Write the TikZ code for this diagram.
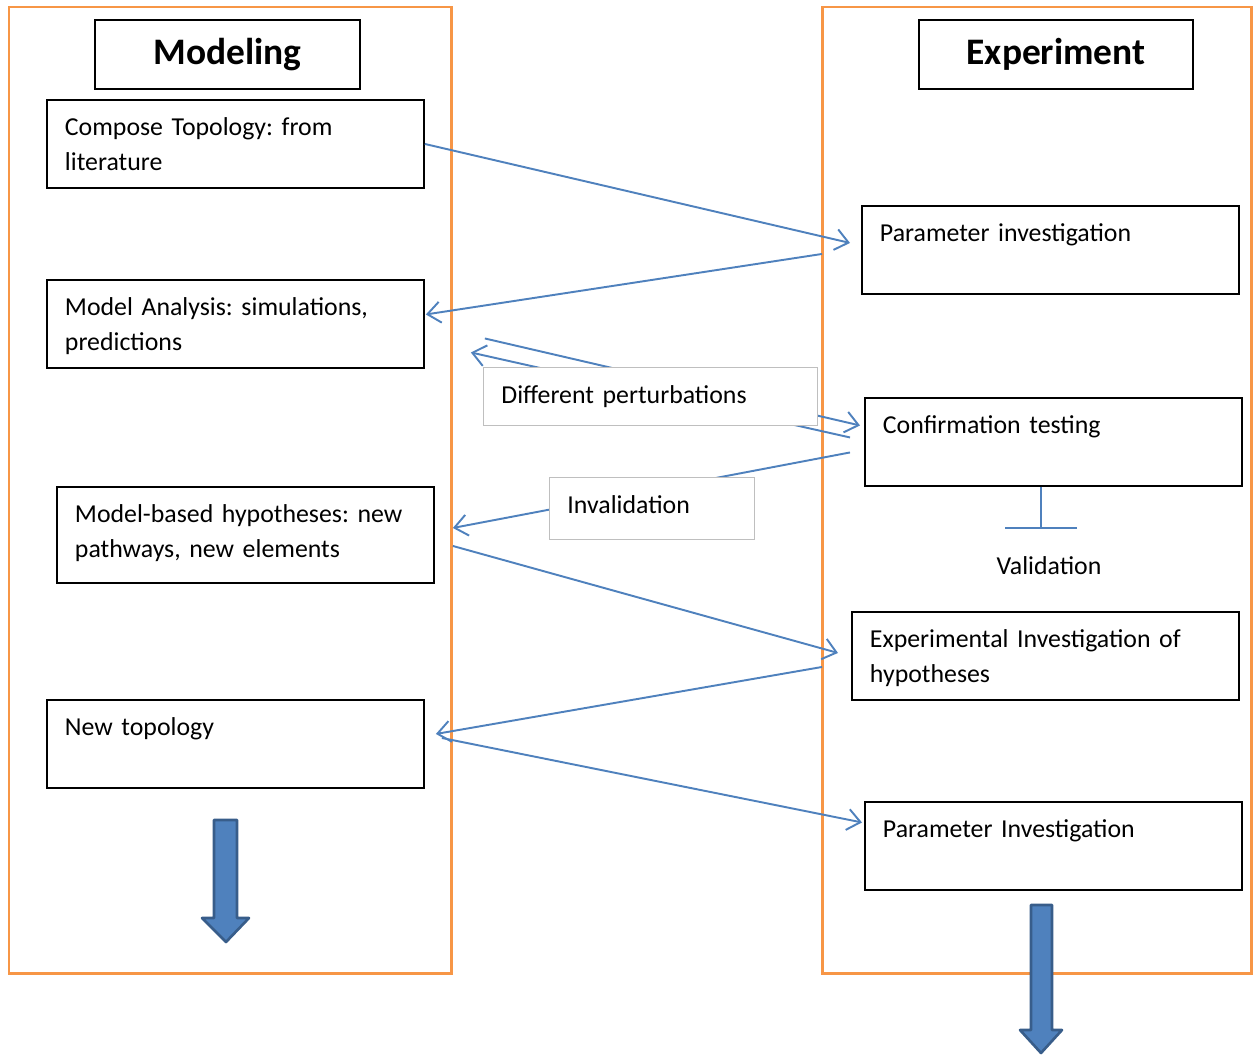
\documentclass[tikz,border=0pt]{standalone}
\usepackage{fontspec}
\setmainfont{Carlito}
\usetikzlibrary{arrows.meta}
\frenchspacing

\definecolor{panelorange}{HTML}{F79646}
\definecolor{linkblue}{HTML}{4F81BD}
\definecolor{darkblue}{HTML}{385D8A}

\begin{document}
\begin{tikzpicture}[x=0.02cm,y=-0.02cm,
  >={Straight Barb[length=0.26cm,width=0.42cm]},
  link/.style={->,color=linkblue,line width=1.1pt},
  panel/.style={draw=panelorange,line width=1.7pt},
  title/.style={draw,line width=1.1pt,fill=white,minimum height=1.38cm,
    font=\fontsize{21.3}{25}\selectfont\bfseries},
  box/.style={draw,line width=1.1pt,fill=white,anchor=north west,align=left,
    inner xsep=0.36cm,inner ysep=0pt,text width=6.82cm,
    text height=0.72cm,text depth=1.04cm,font=\fontsize{14.7}{19.9}\selectfont},
  tag/.style={box,draw=black!25,line width=0.5pt,text depth=0.44cm},
  blockarrow/.style={fill=linkblue,draw=darkblue,line width=1.5pt,line join=round}]
  \useasboundingbox (0,0) rectangle (1253,1055);

  \begin{scope}
	  % Modeling column
	  \draw[panel] (9,7) rectangle (451,973);
	  \node[title,minimum width=5.3cm] (model title) at (227.5,54.5) {Modeling};
	  \node[box] (compose) at (46,99)  {Compose Topology: from\\literature};
	  \node[box] (ana)     at (46,279) {Model Analysis: simulations,\\predictions};
	  \node[box,text depth=1.2cm] (hyp) at (56,486) {Model-based hypotheses: new\\pathways, new elements};
	  \node[box] (newt)    at (46,699) {New topology};
	  \filldraw[blockarrow] (214,820) -- (237,820) -- (237,918) -- (249,918)
	    -- (226,942) -- (202,918) -- (214,918) -- cycle;
  \end{scope}

  \begin{scope}
	  % Experiment column
	  \draw[panel] (822,7) rectangle (1251,973);
	  \node[title,minimum width=5.48cm] (exp title) at (1056,54.5) {Experiment};
	  \node[box] (param) at (861,205) {Parameter investigation};
	  \node[box] (conf)  at (864,397) {Confirmation testing};
	  \node[box,text width=7.02cm] (exp) at (851,611) {Experimental Investigation of\\hypotheses};
	  \node[box] (par2)  at (864,801) {Parameter Investigation};
	  \filldraw[blockarrow] (1031,905) -- (1052,905) -- (1052,1030) -- (1062,1030)
	    -- (1041,1053) -- (1020,1030) -- (1031,1030) -- cycle;
  \end{scope}

  % Validation bar
  \coordinate (bar) at (1041,529);
  \node[font=\fontsize{14.7}{19.9}\selectfont] (valid) at (1049,566) {Validation};
  \path[color=linkblue,line width=1.1pt,-{Bar[width=1.44cm]}]
  (bar |- conf.south) edge (bar);

  % Connecting edges
  \path[link]
  (compose.east) edge ([shift={(-11,-7)}]param.west)
  ([shift={(-39,4)}]param.west) edge ([shift={(1,-9.5)}]ana.east)
  ([shift={(60,14.5)}]ana.east) edge ([shift={(-4,-16.5)}]conf.west)
  ([shift={(-14,-4.5)}]conf.west) edge ([shift={(46,28.5)}]ana.east)
  ([shift={(-14,10.5)}]conf.west) edge ([shift={(18,-7)}]hyp.east)
  ([shift={(18,11)}]hyp.east) edge ([shift={(-13,-3)}]exp.west)
  ([shift={(-29,11)}]exp.west) edge ([shift={(11,-10)}]newt.east)
  ([shift={(17,-6)}]newt.east) edge ([shift={(-2,-23.5)}]par2.west);

  % Edge labels
  \node[tag,text width=5.96cm] (perturb) at (483,367) {Different perturbations};
  \node[tag,text width=3.38cm,text depth=0.52cm] (invalid) at (549,477) {Invalidation};
\end{tikzpicture}
\end{document}
